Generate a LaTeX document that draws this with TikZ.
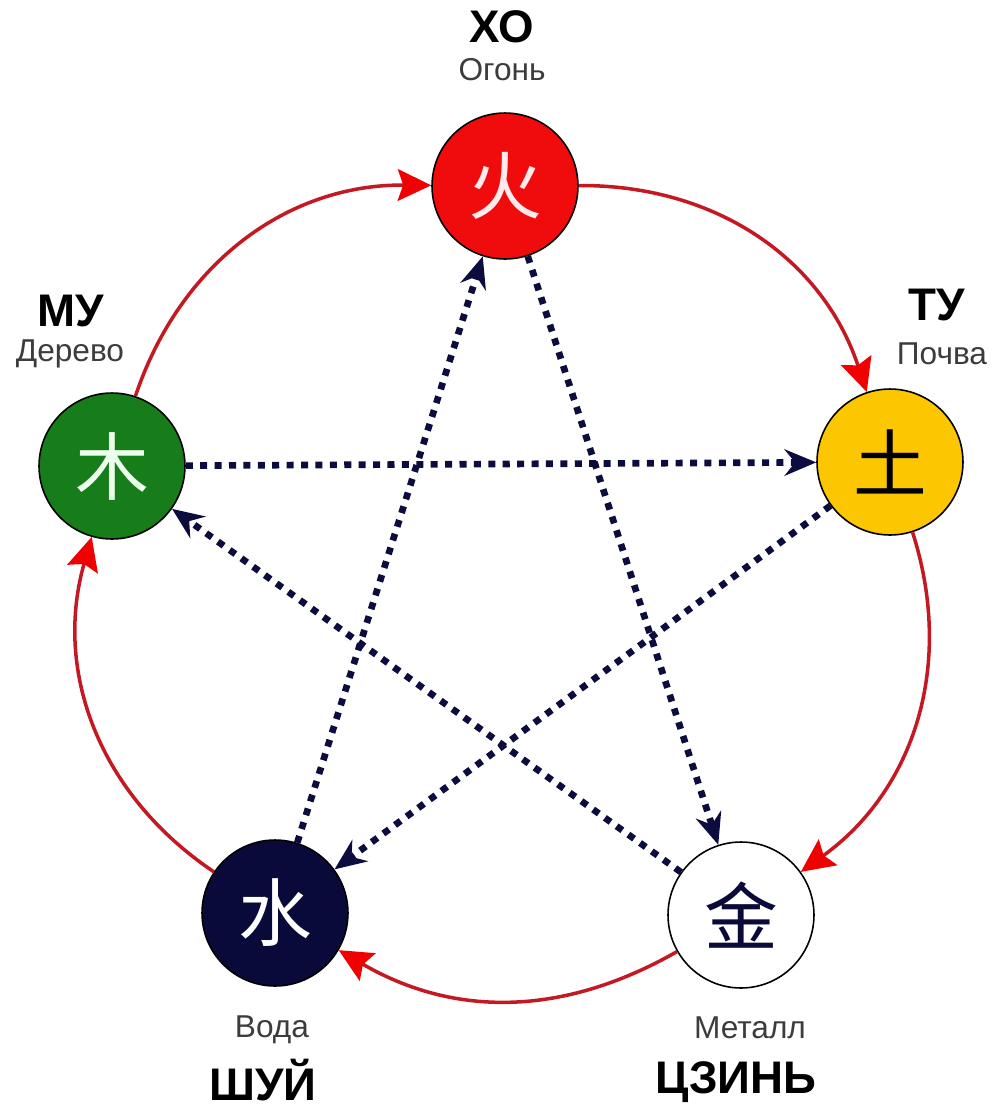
\documentclass[tikz,border=0pt]{standalone}
\usepackage{fontspec}
\setmainfont{Liberation Sans}
\newfontfamily\cjk{Noto Sans CJK SC}
\usepackage{tikz}
\usetikzlibrary{arrows.meta, positioning}

\definecolor{firered}{RGB}{240,12,12}
\definecolor{earthgold}{RGB}{252,198,0}
\definecolor{woodgreen}{RGB}{22,125,26}
\definecolor{waternavy}{RGB}{10,10,58}
\definecolor{arcred}{RGB}{196,24,34}
\definecolor{tipred}{RGB}{240,0,0}
\definecolor{dotnavy}{RGB}{12,12,62}
\definecolor{labelgray}{RGB}{60,60,60}

\begin{document}
\begin{tikzpicture}[x=0.02cm, y=-0.02cm,
    element/.style={circle, draw=black, line width=0.9pt, minimum size=2.92cm,
        inner sep=0pt, font=\cjk\fontsize{42}{42}\selectfont},
    cname/.style={inner sep=1pt, font=\bfseries\fontsize{26}{26}\selectfont},
    rname/.style={inner sep=1pt, text=labelgray, font=\fontsize{18}{18}\selectfont},
    feed/.style={draw=arcred, line width=2pt, bend left=36,
        -{Stealth[length=19pt, width=18pt, inset=3pt, color=tipred]}},
    check/.style={draw=dotnavy, line width=3.8pt, dash pattern=on 4pt off 4.2pt,
        -{Stealth[length=18pt, width=15pt, inset=6pt]}}
]
    \useasboundingbox (0,0) rectangle (992,1110);

    % Elements
    \node[element, fill=firered, text=red!8] (huo) at (505,186) {火};
    \node[element, fill=earthgold, text=black] (tu) at (890,462) {土};
    \node[element, fill=white, text=waternavy] (jin) at (741,915) {金};
    \node[element, fill=waternavy, text=white] (shui) at (275,913) {水};
    \node[element, fill=woodgreen, text=green!8] (mu) at (112,466) {木};

    % Names
    \node[cname] (huoN) at (502,27) {ХО};
    \node[rname] (huoR) at (502,70) {Огонь};
    \node[cname] (tuN) at (937,305) {ТУ};
    \node[rname] (tuR) at (942,354) {Почва};
    \node[cname] (muN) at (71,311) {МУ};
    \node[rname] (muR) at (70,354) {Дерево};
    \node[rname] (shuiR) at (272,1030) {Вода};
    \node[cname] (shuiN) at (263,1080) {ШУЙ};
    \node[rname] (jinR) at (750,1028) {Металл};
    \node[cname] (jinN) at (736,1082) {ЦЗИНЬ};

    % Generating cycle
    \draw[feed] (huo) to (tu);
    \draw[feed] (tu) to (jin);
    \draw[feed, bend left=30] (jin) to (shui);
    \draw[feed] (shui) to (mu);
    \draw[feed] (mu) to (huo);

    % Controlling cycle
    \draw[check] (huo) -- (jin);
    \draw[check] (jin) -- (mu);
    \draw[check] (mu) -- (tu);
    \draw[check] (tu) -- (shui);
    \draw[check] (shui) -- (huo);
\end{tikzpicture}
\end{document}
